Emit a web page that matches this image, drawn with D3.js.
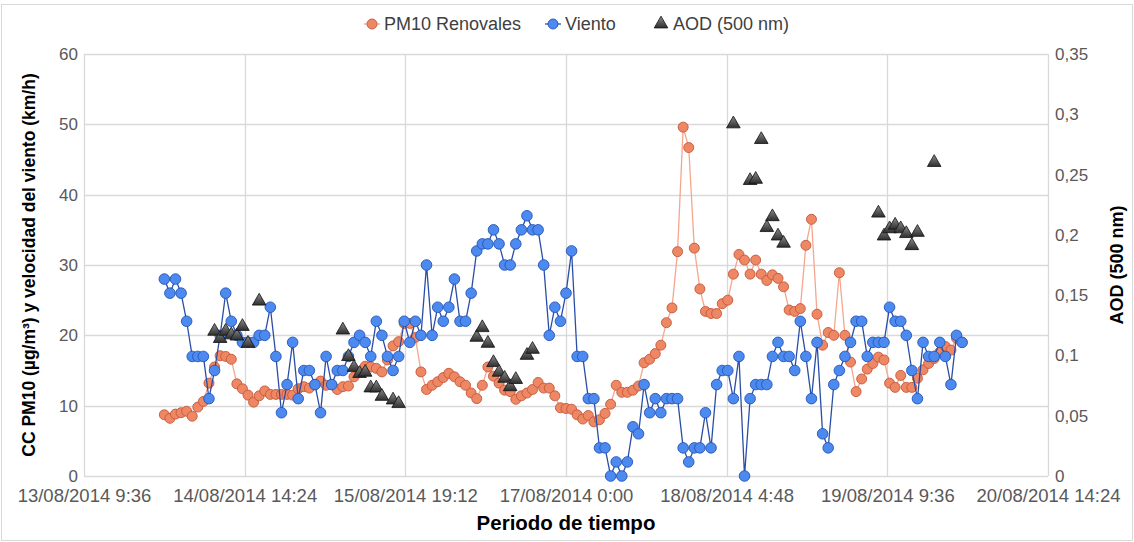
<!DOCTYPE html>
<html>
<head>
<meta charset="utf-8">
<script src="https://cdn.jsdelivr.net/npm/d3@7"></script>
<style>
  body { margin: 0; background: #fff; }
  svg { display: block; font-family: "Liberation Sans", Arial, sans-serif; }
</style>
</head>
<body>
<svg width="1134" height="542"></svg>
<script>
// hourly series, 14/08/2014 0:00 -> 19/08/2014 23:00
const seriesStart = '2014-08-14 00:00';

const pm10 = [
  8.7, 8.2, 8.8, 9.0, 9.2, 8.5, 9.8, 10.6, 13.2, 15.5,
  17.1, 17.0, 16.6, 13.1, 12.4, 11.5, 10.5, 11.4, 12.1, 11.6,
  11.6, 11.6, 11.6, 11.5, 12.4, 12.7, 12.5, 13.0, 13.5, 12.9,
  13.0, 12.3, 12.7, 12.8, 14.1, 14.8, 15.6, 15.5, 15.3, 14.8,
  16.5, 18.5, 19.1, 21.7, 21.7, 19.7, 14.8, 12.3, 12.9, 13.4,
  14.0, 14.6, 14.1, 13.4, 12.9, 11.8, 11.0, 12.9, 15.5, 14.2,
  13.2, 12.2, 12.0, 10.9, 11.4, 11.8, 12.3, 13.3, 12.5, 12.5,
  11.4, 9.7, 9.6, 9.5, 8.7, 8.1, 8.6, 7.7, 8.0, 8.9,
  10.2, 12.9, 11.9, 11.9, 12.2, 12.8, 16.1, 16.6, 17.4, 18.6,
  21.8, 23.9, 31.9, 49.6, 46.7, 32.4, 26.6, 23.4, 23.1, 23.1,
  24.5, 25.0, 28.7, 31.5, 30.7, 28.7, 30.7, 28.7, 27.8, 28.6,
  28.1, 26.9, 23.6, 23.4, 23.8, 32.8, 36.5, 23.0, 18.6, 20.4,
  20.0, 28.9, 20.0, 16.2, 12.0, 13.8, 15.2, 16.0, 16.9, 16.5,
  13.2, 12.6, 14.3, 12.6, 12.6, 13.9, 15.1, 16.0, 16.7, 17.6,
  18.4, 17.9, 19.6, 19.0
];

const wind = [
  28, 26, 28, 26, 22, 17, 17, 17, 11, 15,
  20, 26, 22, 20, 19, 19, 19, 20, 20, 24,
  17, 9, 13, 19, 11, 15, 15, 13, 9, 17,
  13, 15, 15, 17, 19, 20, 19, 17, 22, 20,
  17, 15, 17, 22, 19, 22, 20, 30, 20, 24,
  22, 24, 28, 22, 22, 26, 32, 33, 33, 35,
  33, 30, 30, 33, 35, 37, 35, 35, 30, 20,
  24, 22, 26, 32, 17, 17, 11, 11, 4, 4,
  0, 2, 0, 2, 7, 6, 13, 9, 11, 9,
  11, 11, 11, 4, 2, 4, 4, 9, 4, 13,
  15, 15, 11, 17, 0, 11, 13, 13, 13, 17,
  19, 17, 17, 15, 22, 17, 11, 19, 6, 4,
  13, 15, 17, 19, 22, 22, 17, 19, 19, 19,
  24, 22, 22, 20, 15, 11, 19, 17, 17, 19,
  17, 13, 20, 19
];

const aodTimes = [
  '2014-08-14 09:00', '2014-08-14 10:00', '2014-08-14 11:00', '2014-08-14 12:00',
  '2014-08-14 13:00', '2014-08-14 14:00', '2014-08-14 15:00', '2014-08-14 17:00',
  '2014-08-15 08:00', '2014-08-15 09:00', '2014-08-15 10:00', '2014-08-15 11:00',
  '2014-08-15 12:00', '2014-08-15 13:00', '2014-08-15 14:00', '2014-08-15 15:00',
  '2014-08-15 17:00', '2014-08-15 18:00',
  '2014-08-16 08:00', '2014-08-16 09:00', '2014-08-16 10:00', '2014-08-16 11:00',
  '2014-08-16 12:00', '2014-08-16 13:00', '2014-08-16 14:00', '2014-08-16 15:00',
  '2014-08-16 17:00', '2014-08-16 18:00',
  '2014-08-18 06:00', '2014-08-18 09:00', '2014-08-18 10:00', '2014-08-18 11:00',
  '2014-08-18 12:00', '2014-08-18 13:00', '2014-08-18 14:00', '2014-08-18 15:00',
  '2014-08-19 08:00', '2014-08-19 09:00', '2014-08-19 10:00', '2014-08-19 11:00',
  '2014-08-19 12:00', '2014-08-19 13:00', '2014-08-19 14:00', '2014-08-19 15:00',
  '2014-08-19 18:00'
];
const aod = [
  0.120, 0.114, 0.120, 0.117, 0.116, 0.124, 0.110, 0.145,
  0.121, 0.099, 0.090, 0.085, 0.086, 0.073, 0.073, 0.066, 0.063, 0.060,
  0.115, 0.123, 0.110, 0.094, 0.086, 0.081, 0.074, 0.080, 0.100, 0.105,
  0.292, 0.245, 0.246, 0.279, 0.206, 0.215, 0.199, 0.193,
  0.218, 0.199, 0.205, 0.208, 0.205, 0.201, 0.191, 0.202, 0.260
];

const xDomain = ['2014-08-13 09:36', '2014-08-20 14:24'];
const xTickCount = 7; // every 1.2 days
const leftTicks = [0, 10, 20, 30, 40, 50, 60];
const rightTicks = [0, 0.05, 0.1, 0.15, 0.2, 0.25, 0.3, 0.35];

const parse = d3.timeParse('%Y-%m-%d %H:%M');
const t0 = parse(seriesStart);
const hourly = pm10.map((v, i) => ({ t: d3.timeHour.offset(t0, i), pm: v, wind: wind[i] }));
const aodData = aodTimes.map((s, i) => ({ t: parse(s), v: aod[i] }));

const margin = { left: 84, right: 1048, top: 54, bottom: 476 };

const x = d3.scaleTime().domain(xDomain.map(parse)).range([margin.left, margin.right]);
const y = d3.scaleLinear().domain([0, 60]).range([margin.bottom, margin.top]);
const y2 = d3.scaleLinear().domain([0, 0.35]).range([margin.bottom, margin.top]);

const [xs, xe] = x.domain();
const xTicks = d3.range(xTickCount).map(i => new Date(+xs + i * (xe - xs) / (xTickCount - 1)));
const fmtDate = d3.timeFormat('%d/%m/%Y');
const fmtMin = d3.timeFormat('%M');
const xFmt = d => `${fmtDate(d)} ${d.getHours()}:${fmtMin(d)}`;
const rFmt = v => String(+v.toFixed(2)).replace('.', ',');

const svg = d3.select('svg');

const defs = svg.append('defs');
const grad = defs.append('linearGradient').attr('id', 'triGrad')
  .attr('x1', 0).attr('y1', 0).attr('x2', 0).attr('y2', 1);
grad.append('stop').attr('offset', '0%').attr('stop-color', '#8c8c8c');
grad.append('stop').attr('offset', '100%').attr('stop-color', '#2e2e2e');

// chart border
svg.append('rect')
  .attr('x', 1.5).attr('y', 4.5).attr('width', 1131).attr('height', 536)
  .attr('fill', 'none').attr('stroke', '#d9d9d9');

// gridlines
svg.append('g')
  .selectAll('line.h')
  .data(leftTicks)
  .join('line')
  .attr('x1', margin.left).attr('x2', margin.right)
  .attr('y1', d => Math.round(y(d)) + 0.5).attr('y2', d => Math.round(y(d)) + 0.5)
  .attr('stroke', '#d9d9d9').attr('stroke-width', 1.3);

svg.append('g')
  .selectAll('line.v')
  .data(xTicks)
  .join('line')
  .attr('x1', d => Math.round(x(d)) + 0.5).attr('x2', d => Math.round(x(d)) + 0.5)
  .attr('y1', margin.top).attr('y2', margin.bottom)
  .attr('stroke', '#d9d9d9').attr('stroke-width', 1.3);

// axes (labels only, Excel style)
const leftAxis = svg.append('g')
  .attr('transform', `translate(${margin.left - 6},0)`)
  .call(d3.axisLeft(y).tickValues(leftTicks).tickSize(0).tickPadding(0));
const rightAxis = svg.append('g')
  .attr('transform', `translate(${margin.right + 7},0)`)
  .call(d3.axisRight(y2).tickValues(rightTicks).tickFormat(rFmt).tickSize(0).tickPadding(0));
const bottomAxis = svg.append('g')
  .attr('transform', `translate(0,${margin.bottom + 11})`)
  .call(d3.axisBottom(x).tickValues(xTicks).tickFormat(xFmt).tickSize(0).tickPadding(0));

[leftAxis, rightAxis, bottomAxis].forEach(g => {
  g.select('.domain').remove();
  g.selectAll('text')
    .attr('fill', '#595959')
    .style('font-size', '17px')
    .style('font-family', '"Liberation Sans", Arial, sans-serif');
});
bottomAxis.selectAll('text').attr('dy', '0.8em').style('font-size', '18.5px');

// axis titles
svg.append('text')
  .attr('transform', `translate(35,${(margin.top + margin.bottom) / 2}) rotate(-90)`)
  .attr('text-anchor', 'middle')
  .style('font-size', '17.5px').style('font-weight', 'bold').attr('fill', '#000')
  .text('CC PM10 (µg/m³) y velocidad del viento (km/h)');

svg.append('text')
  .attr('transform', `translate(1123,${(margin.top + margin.bottom) / 2}) rotate(-90)`)
  .attr('text-anchor', 'middle')
  .style('font-size', '18px').style('font-weight', 'bold').attr('fill', '#000')
  .text('AOD (500 nm)');

svg.append('text')
  .attr('x', (margin.left + margin.right) / 2).attr('y', 530)
  .attr('text-anchor', 'middle')
  .style('font-size', '20.5px').style('font-weight', 'bold').attr('fill', '#000')
  .text('Periodo de tiempo');

// series
const pmColor = { line: '#f4a68f', fill: '#ee8763', stroke: '#c4583a' };
const windColor = { line: '#2a4ea6', fill: '#4d8af0', stroke: '#2353b8' };
const aodColor = { fill: 'url(#triGrad)', stroke: '#111' };

svg.append('path')
  .datum(hourly)
  .attr('fill', 'none').attr('stroke', pmColor.line).attr('stroke-width', 1.3)
  .attr('d', d3.line().x(d => x(d.t)).y(d => y(d.pm)));
svg.append('g')
  .selectAll('circle')
  .data(hourly)
  .join('circle')
  .attr('cx', d => x(d.t)).attr('cy', d => y(d.pm)).attr('r', 5)
  .attr('fill', pmColor.fill).attr('stroke', pmColor.stroke).attr('stroke-width', 0.9);

svg.append('path')
  .datum(hourly)
  .attr('fill', 'none').attr('stroke', windColor.line).attr('stroke-width', 1.3)
  .attr('d', d3.line().x(d => x(d.t)).y(d => y(d.wind)));
svg.append('g')
  .selectAll('circle')
  .data(hourly)
  .join('circle')
  .attr('cx', d => x(d.t)).attr('cy', d => y(d.wind)).attr('r', 5.3)
  .attr('fill', windColor.fill).attr('stroke', windColor.stroke).attr('stroke-width', 0.9);

const tri = d3.symbol().type(d3.symbolTriangle).size(80);
svg.append('g')
  .selectAll('path')
  .data(aodData)
  .join('path')
  .attr('transform', d => `translate(${x(d.t)},${y2(d.v)})`)
  .attr('d', tri)
  .attr('fill', aodColor.fill).attr('stroke', aodColor.stroke).attr('stroke-width', 0.8);

// legend
const legend = svg.append('g').attr('transform', 'translate(0,24)');
const legendItems = [
  { label: 'PM10 Renovales', x: 364, kind: 'circle', c: pmColor },
  { label: 'Viento', x: 545, kind: 'circle', c: windColor },
  { label: 'AOD (500 nm)', x: 653, kind: 'tri', c: aodColor }
];
legendItems.forEach(it => {
  const g = legend.append('g').attr('transform', `translate(${it.x},0)`);
  if (it.kind === 'circle') {
    g.append('line').attr('x1', 0).attr('x2', 16).attr('y1', 0).attr('y2', 0)
      .attr('stroke', it.c.line).attr('stroke-width', 1.3);
    g.append('circle').attr('cx', 8).attr('cy', 0).attr('r', 5)
      .attr('fill', it.c.fill).attr('stroke', it.c.stroke).attr('stroke-width', 0.9);
  } else {
    g.append('path').attr('transform', 'translate(8,0)').attr('d', tri)
      .attr('fill', it.c.fill).attr('stroke', it.c.stroke).attr('stroke-width', 0.8);
  }
  g.append('text').attr('x', 20).attr('y', 0).attr('dy', '0.35em')
    .style('font-size', '18px').attr('fill', '#404040').text(it.label);
});
</script>
</body>
</html>
